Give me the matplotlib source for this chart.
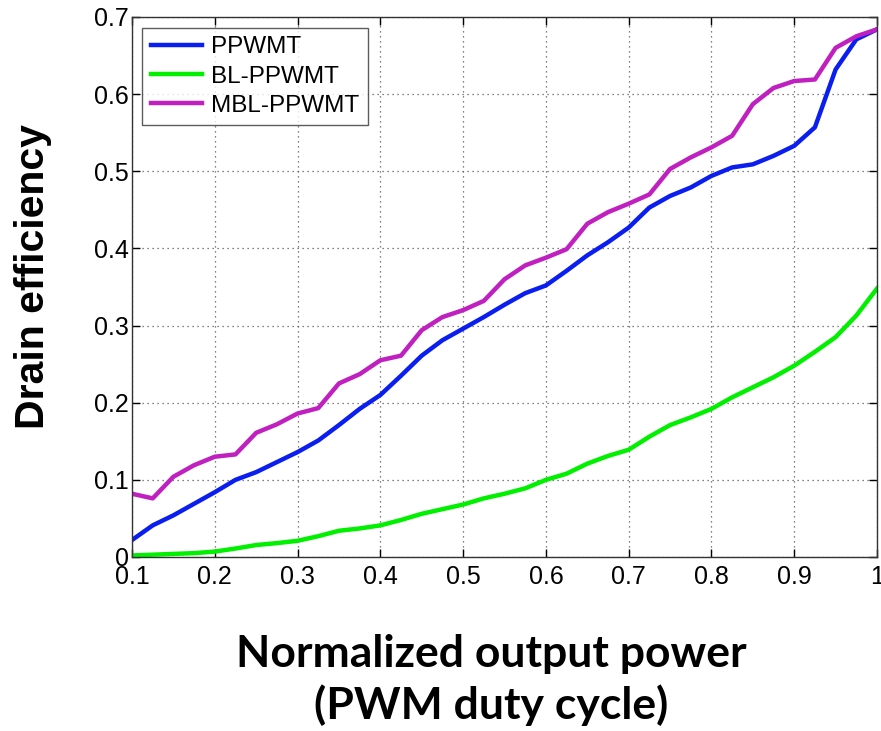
import numpy as np
import matplotlib

matplotlib.use("Agg")
import matplotlib.pyplot as plt

# duty cycle samples (step 0.025)
duty = np.round(np.arange(0.1, 1.0001, 0.025), 3)

ppwmt = [0.022, 0.041, 0.054, 0.069, 0.084, 0.100, 0.110, 0.123, 0.136,
         0.151, 0.171, 0.192, 0.210, 0.235, 0.261, 0.281, 0.296, 0.311,
         0.327, 0.342, 0.352, 0.371, 0.391, 0.408, 0.427, 0.453, 0.468,
         0.479, 0.494, 0.505, 0.509, 0.520, 0.533, 0.557, 0.632, 0.671,
         0.684]
bl_ppwmt = [0.002, 0.003, 0.004, 0.005, 0.007, 0.011, 0.0155, 0.018, 0.021,
            0.027, 0.034, 0.037, 0.041, 0.048, 0.056, 0.062, 0.068, 0.076,
            0.082, 0.089, 0.100, 0.108, 0.121, 0.131, 0.139, 0.156, 0.171,
            0.181, 0.192, 0.207, 0.220, 0.233, 0.248, 0.266, 0.285, 0.313,
            0.348]
mbl_ppwmt = [0.082, 0.076, 0.104, 0.119, 0.130, 0.133, 0.161, 0.172, 0.186,
             0.193, 0.225, 0.237, 0.255, 0.261, 0.294, 0.311, 0.320, 0.332,
             0.360, 0.378, 0.388, 0.399, 0.432, 0.447, 0.458, 0.470, 0.503,
             0.518, 0.531, 0.546, 0.587, 0.608, 0.617, 0.619, 0.660, 0.675,
             0.684]

series = [("PPWMT", ppwmt, "#0a1ef0"),
          ("BL-PPWMT", bl_ppwmt, "#00f000"),
          ("MBL-PPWMT", mbl_ppwmt, "#c020c0")]

fig = plt.figure(figsize=(8.81, 7.31), dpi=100)
ax = fig.add_axes([132 / 881, 1 - 557 / 731, 745 / 881, 540 / 731])

for name, vals, color in series:
    ax.plot(duty, vals, color=color, lw=3.2, label=name)

ax.set_xlim(0.1, 1.0)
ax.set_ylim(0, 0.7)
ax.set_xticks(np.arange(0.1, 1.01, 0.1))
ax.set_xticklabels(["0.1", "0.2", "0.3", "0.4", "0.5", "0.6", "0.7", "0.8",
                    "0.9", "1"])
ax.set_yticks(np.arange(0, 0.71, 0.1))
ax.set_yticklabels(["0", "0.1", "0.2", "0.3", "0.4", "0.5", "0.6", "0.7"])
ax.tick_params(direction="in", top=True, right=True, length=6, width=1,
               labelsize=18)
ax.tick_params(axis="x", pad=6)
ax.tick_params(axis="y", pad=2)
for lab in ax.get_xticklabels() + ax.get_yticklabels():
    lab.set_family("Liberation Sans")
ax.grid(True, ls=(0, (1, 3)), color="0.35", lw=0.9)
for sp in ax.spines.values():
    sp.set_color("0.2")
    sp.set_linewidth(1.0)

leg = ax.legend(loc="upper left", bbox_to_anchor=(0.0135, 0.98),
                prop={"family": "Liberation Sans", "size": 17.5},
                frameon=True, fancybox=False, handlelength=2.1,
                handletextpad=0.4, labelspacing=0.3, borderpad=0.35,
                borderaxespad=0.0)
leg.get_frame().set_edgecolor("0.2")
leg.get_frame().set_linewidth(1.0)

fig.text(33 / 881, 1 - 277 / 731, "Drain efficiency", rotation=90,
         ha="center", va="center", family="Liberation Sans",
         fontweight="bold", fontsize=29.5)
fig.text(491 / 881, 1 - 680 / 731,
         "Normalized output power\n(PWM duty cycle)", ha="center",
         va="center", family="Lato", fontweight="bold", fontsize=32,
         linespacing=1.3)

fig.savefig("out.png", dpi=100)
